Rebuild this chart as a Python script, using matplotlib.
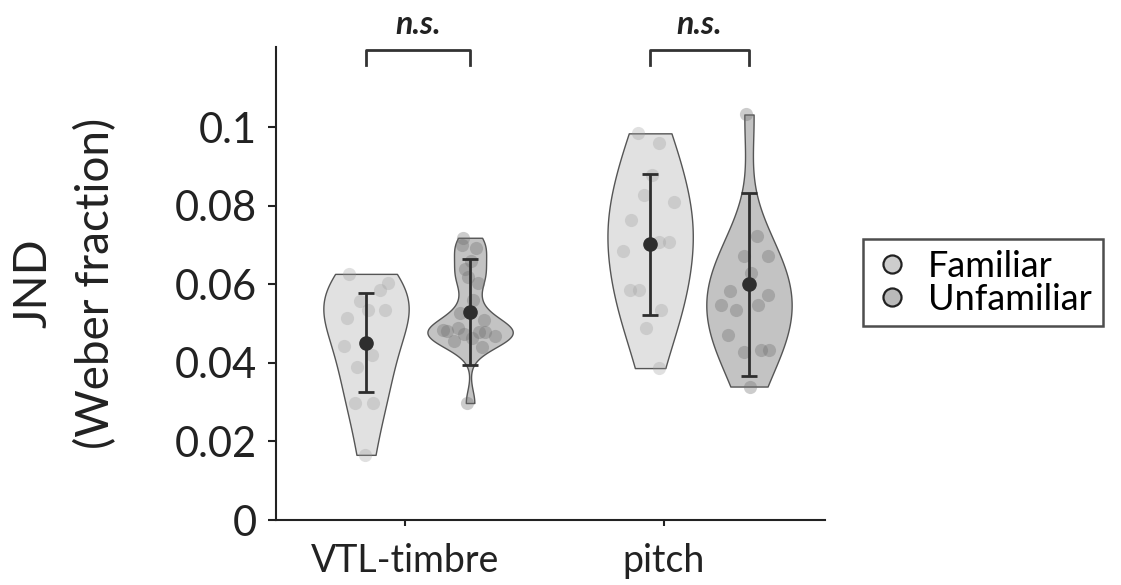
import numpy as np
import matplotlib.pyplot as plt
from matplotlib.lines import Line2D

plt.rcParams['font.family'] = ['Lato', 'DejaVu Sans']

# values (JND, Weber fraction)
conditions = ['VTL-timbre', 'pitch']
groups = ['Familiar', 'Unfamiliar']

vtl_familiar = [0.0627, 0.0587, 0.0557, 0.0604, 0.0536, 0.0515, 0.0536, 0.0442,
                0.0421, 0.0391, 0.0298, 0.0298, 0.0166]
vtl_unfamiliar = [0.0719, 0.0693, 0.0618, 0.0605, 0.0660, 0.0528, 0.0510, 0.0485,
                  0.0480, 0.0490, 0.0482, 0.0478, 0.0475, 0.0470, 0.0463, 0.0455,
                  0.0440, 0.0298, 0.0560, 0.0640, 0.0700]
pitch_familiar = [0.0985, 0.0960, 0.0829, 0.0809, 0.0880, 0.0765, 0.0707, 0.0685,
                  0.0707, 0.0587, 0.0587, 0.0536, 0.0490, 0.0387]
pitch_unfamiliar = [0.1033, 0.0723, 0.0672, 0.0672, 0.0630, 0.0583, 0.0574,
                    0.0548, 0.0548, 0.0536, 0.0472, 0.0434, 0.0429, 0.0434, 0.0340]

# mean and SD shown by the error bars
means = [0.0452, 0.0530, 0.0702, 0.0600]
sds = [0.0127, 0.0134, 0.0179, 0.0233]

datasets = [vtl_familiar, vtl_unfamiliar, pitch_familiar, pitch_unfamiliar]


def ksdensity(x, pts):
    # gaussian kernel with MATLAB-style robust bandwidth
    x = np.asarray(x)
    n = len(x)
    sig = np.median(np.abs(x - np.median(x))) / 0.6745
    h = sig * (4.0 / (3.0 * n)) ** 0.2
    z = (pts[:, None] - x[None, :]) / h
    return np.exp(-0.5 * z ** 2).sum(1) / (n * h * np.sqrt(2 * np.pi))


positions = [1.0, 2.0, 3.73, 4.68]
tick_pos = [1.375, 3.86]
width = 0.82
face = ['#e1e1e1', '#c3c3c3', '#e1e1e1', '#c3c3c3']
dot_col = ['#9a9a9a', '#6e6e6e', '#9a9a9a', '#6e6e6e']
dot_alpha = [0.3, 0.35, 0.3, 0.35]
jitter = [-0.55, 0.35, -0.15, 0.6, 0.05, -0.45, 0.45, -0.65, 0.2, -0.3]

stats = []
for d in datasets:
    coords = np.linspace(min(d), max(d), 200)
    stats.append(dict(coords=coords, vals=ksdensity(d, coords), mean=np.mean(d),
                      median=np.median(d), min=min(d), max=max(d)))

fig = plt.figure(figsize=(11.21, 5.85), dpi=100)
ax = fig.add_axes([0.2462, 0.1111, 0.4897, 0.8086])

parts = ax.violin(stats, positions=positions, widths=width,
                  showmeans=False, showextrema=False, showmedians=False)
for body, fc in zip(parts['bodies'], face):
    body.set_facecolor(fc)
    body.set_edgecolor('#555555')
    body.set_linewidth(1.0)
    body.set_alpha(1)
    body.set_zorder(1)

# jittered raw points, spread according to violin width
for i, (d, s) in enumerate(zip(datasets, stats)):
    d = np.asarray(d)
    half = 0.5 * width * np.interp(d, s['coords'], s['vals']) / s['vals'].max()
    off = np.array([jitter[k % len(jitter)] for k in range(len(d))])
    ax.scatter(positions[i] + off * half, d, s=90, color=dot_col[i],
               alpha=dot_alpha[i], linewidths=0, zorder=2)

ax.errorbar(positions, means, yerr=sds, fmt='o', color='#2e2e2e', ms=9.5,
            elinewidth=2, capsize=5.5, capthick=2, zorder=3)

# significance brackets
for k in range(2):
    x1, x2 = positions[2 * k], positions[2 * k + 1]
    ax.plot([x1, x1, x2, x2], [0.1160, 0.1197, 0.1197, 0.1160], color='#333333',
            lw=2, clip_on=False)
    ax.text((x1 + x2) / 2, 0.1262, 'n.s.', ha='center', va='center', fontsize=23,
            fontstyle='italic', fontweight='bold', color='#222222')

ax.set_xlim(0.135, 5.41)
ax.set_ylim(0, 0.1205)
ax.set_yticks([0, 0.02, 0.04, 0.06, 0.08, 0.1])
ax.set_yticklabels(['0', '0.02', '0.04', '0.06', '0.08', '0.1'], fontsize=30)
ax.set_xticks(tick_pos)
ax.set_xticklabels(conditions, fontsize=27)
ax.tick_params(axis='y', direction='out', length=6, width=1.5, pad=8, colors='#222222')
ax.tick_params(axis='x', direction='out', length=4.5, width=1.5, pad=12, colors='#222222')
for side in ['top', 'right']:
    ax.spines[side].set_visible(False)
for side in ['left', 'bottom']:
    ax.spines[side].set_linewidth(1.5)
    ax.spines[side].set_color('#222222')

ax.set_ylabel('JND\n(Weber fraction)', fontsize=33, linespacing=1.55, color='#222222')
ax.yaxis.set_label_coords(-0.29, 0.5)

handles = [Line2D([], [], marker='o', ls='none', ms=13, markerfacecolor='#cdcdcd',
                  markeredgecolor='#222222', markeredgewidth=1.6),
           Line2D([], [], marker='o', ls='none', ms=13, markerfacecolor='#b9b9b9',
                  markeredgecolor='#222222', markeredgewidth=1.6)]
leg = fig.legend(handles, groups, loc='upper left', bbox_to_anchor=(0.770, 0.592),
                 fontsize=26, frameon=True, fancybox=False, borderaxespad=0,
                 handletextpad=0.5, labelspacing=0.0, borderpad=0.3,
                 handlelength=1.0)
leg.get_frame().set_edgecolor('#222222')
leg.get_frame().set_linewidth(1.8)

plt.savefig('out.png', dpi=100)
